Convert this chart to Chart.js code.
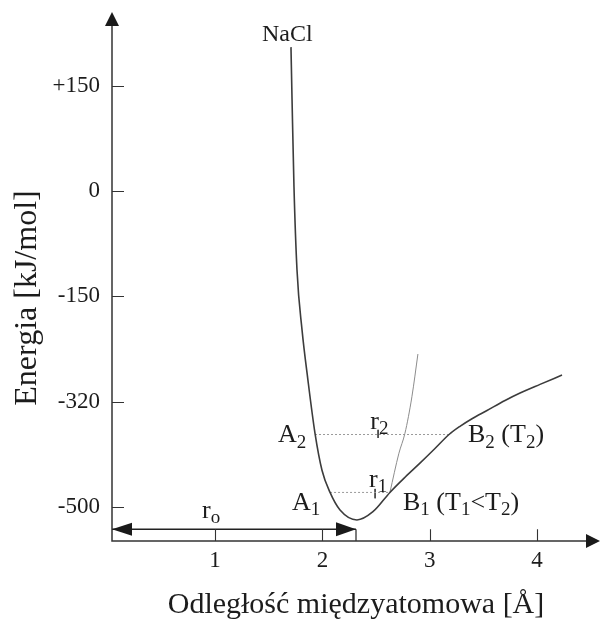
<!DOCTYPE html>
<html>
<head>
<meta charset="utf-8">
<script src="https://cdn.jsdelivr.net/npm/chart.js@4/dist/chart.umd.min.js"></script>
<style>
  html, body { margin: 0; padding: 0; background: #fff; }
</style>
</head>
<body>
<canvas id="chart" width="600" height="622"></canvas>
<script>
// ============= Dane =============
const xTicks = [1, 2, 3, 4];
const yTickE = [-500, -320, -150, 0, 150];
const yTickLabels = ["-500", "-320", "-150", "0", "+150"];
const rMin = 0.039, rMax = 4.587;
const eMin = -558, eMax = 255;

// krzywa energii NaCl
const morseR = [1.707, 1.717, 1.735, 1.763, 1.810, 1.865, 1.931, 1.996, 2.071, 2.164, 2.322, 2.471, 2.629, 2.770, 2.909, 3.049, 3.180, 3.282, 3.394, 3.534, 3.702, 3.842, 4.028, 4.233];
const morseE = [205, 130, 6, -112, -204, -285, -374, -437, -475, -505, -522, -508, -475, -449, -425, -400, -376, -362, -349, -335, -318, -306, -292, -277];

// przybliżenie harmoniczne (cienka linia)
const harmR = [2.629, 2.713, 2.769, 2.834, 2.890];
const harmE = [-475, -408, -374, -312, -243];

// poziomy A2-B2 i A1-B1
const levelE = [-376, -475];
const levelFrom = [1.931, 2.071];
const levelTo = [3.180, 2.629];

// znaczniki r2, r1
const rMarkR = [2.519, 2.491];
const rMarkTop = [-368, -469];
const rMarkBottom = [-382, -485];

// strzałka r_o
const roR = [0.039, 2.313];
const roE = -538;

// opisy
const noteText = ["NaCl", "A_2", "r_2", "B_2 (T_2)", "A_1", "r_1", "B_1 (T_1<T_2)", "r_o"];
const noteR = [1.437, 1.586, 2.446, 3.357, 1.717, 2.434, 2.751, 0.878];
const noteE = [225, -375, -352, -375, -490, -451, -490, -504];

// skala energii nie jest liniowa: kreski są w równych odstępach
function lvl(e) {
  let i = 0;
  while (i < yTickE.length - 2 && e > yTickE[i + 1]) i++;
  return i + (e - yTickE[i]) / (yTickE[i + 1] - yTickE[i]);
}

const pts = (rs, es) => rs.map((r, i) => ({ x: r, y: lvl(es[i]) }));

const FONT = "'Liberation Serif', 'Times New Roman', serif";
const INK = "#1c1c1c";

const datasets = [
  {
    data: pts(morseR, morseE),
    borderColor: "#3c3c3c",
    borderWidth: 1.6,
    cubicInterpolationMode: "monotone",
  },
  {
    data: pts(harmR, harmE),
    borderColor: "#8c8c8c",
    borderWidth: 1,
    cubicInterpolationMode: "monotone",
  },
];

levelE.forEach((e, i) => {
  datasets.push({
    data: pts([levelFrom[i], levelTo[i]], [e, e]),
    borderColor: "#9a9a9a",
    borderWidth: 1,
    borderDash: [2, 2],
  });
});

rMarkR.forEach((r, i) => {
  datasets.push({
    data: pts([r, r], [rMarkTop[i], rMarkBottom[i]]),
    borderColor: "#444",
    borderWidth: 1,
  });
});

datasets.push({
  data: pts(roR, [roE, roE]),
  borderColor: "#222",
  borderWidth: 1.4,
  arrows: true,
});
datasets.push({
  data: pts([roR[1], roR[1]], [eMin, roE]),
  borderColor: "#222",
  borderWidth: 1.2,
});

// ============= Rysowanie tekstu z indeksami dolnymi =============
function drawRich(ctx, str, x, y, size) {
  const parts = [];
  for (let i = 0; i < str.length; i++) {
    if (str[i] === "_") {
      parts.push([str[i + 1], true]);
      i++;
    } else if (parts.length && !parts[parts.length - 1][1]) {
      parts[parts.length - 1][0] += str[i];
    } else {
      parts.push([str[i], false]);
    }
  }
  const base = y + size * 0.33;
  let cx = x;
  ctx.textAlign = "left";
  ctx.textBaseline = "alphabetic";
  parts.forEach(([t, sub]) => {
    const s = sub ? Math.round(size * 0.74) : size;
    ctx.font = `${s}px ${FONT}`;
    ctx.fillText(t, cx, sub ? base + size * 0.2 : base);
    cx += ctx.measureText(t).width;
  });
}

function tri(ctx, tipX, tipY, dx, dy, len, half) {
  // dx,dy: kierunek grotu
  const bx = tipX - dx * len, by = tipY - dy * len;
  ctx.beginPath();
  ctx.moveTo(tipX, tipY);
  ctx.lineTo(bx - dy * half, by + dx * half);
  ctx.lineTo(bx + dy * half, by - dx * half);
  ctx.closePath();
  ctx.fill();
}

const decor = {
  id: "decor",
  afterDraw(chart) {
    const { ctx, chartArea: a, scales } = chart;
    const xs = scales.x, ys = scales.y;
    ctx.save();
    ctx.strokeStyle = "#333";
    ctx.fillStyle = "#1a1a1a";
    ctx.lineWidth = 1.5;

    // osie
    ctx.beginPath();
    ctx.moveTo(a.left, a.top + 4);
    ctx.lineTo(a.left, a.bottom);
    ctx.lineTo(a.right - 4, a.bottom);
    ctx.stroke();
    tri(ctx, a.left, a.top, 0, -1, 14, 7);
    tri(ctx, a.right, a.bottom, 1, 0, 14, 7);

    // kreski podziałki (do wewnątrz)
    ctx.lineWidth = 1.1;
    ctx.beginPath();
    yTickE.forEach((e) => {
      const y = Math.round(ys.getPixelForValue(lvl(e))) + 0.5;
      ctx.moveTo(a.left, y);
      ctx.lineTo(a.left + 12, y);
    });
    xTicks.forEach((v) => {
      const x = Math.round(xs.getPixelForValue(v)) + 0.5;
      ctx.moveTo(x, a.bottom);
      ctx.lineTo(x, ys.getPixelForValue(lvl(roE)));
    });
    ctx.stroke();

    // groty strzałki r_o
    chart.data.datasets.forEach((ds, i) => {
      if (!ds.arrows) return;
      const el = chart.getDatasetMeta(i).data;
      const p0 = el[0], p1 = el[el.length - 1];
      tri(ctx, p0.x, p0.y, -1, 0, 20, 6.5);
      tri(ctx, p1.x, p1.y, 1, 0, 20, 7);
    });

    // opisy
    ctx.fillStyle = INK;
    noteText.forEach((t, i) => {
      const size = t === "NaCl" ? 24 : 26;
      drawRich(ctx, t, xs.getPixelForValue(noteR[i]), ys.getPixelForValue(lvl(noteE[i])), size);
    });

    // tytuły osi
    ctx.font = `30px ${FONT}`;
    ctx.textAlign = "center";
    ctx.textBaseline = "alphabetic";
    ctx.fillText("Odległość międzyatomowa [Å]", (a.left + a.right) / 2, a.bottom + 72);

    ctx.translate(36, a.bottom - 243);
    ctx.rotate(-Math.PI / 2);
    ctx.font = `32px ${FONT}`;
    ctx.fillText("Energia [kJ/mol]", 0, 0);
    ctx.restore();
  },
};

new Chart(document.getElementById("chart"), {
  type: "line",
  data: { datasets },
  options: {
    responsive: false,
    animation: false,
    events: [],
    layout: { padding: { top: 12, right: 0, left: 0, bottom: 0 } },
    elements: { point: { radius: 0 }, line: { fill: false } },
    plugins: { legend: { display: false }, tooltip: { enabled: false } },
    scales: {
      x: {
        type: "linear",
        min: rMin,
        max: rMax,
        grid: { display: false, drawTicks: false },
        border: { display: false },
        ticks: { color: INK, font: { family: FONT, size: 23 }, padding: 6, maxRotation: 0 },
        afterBuildTicks: (s) => { s.ticks = xTicks.map((v) => ({ value: v })); },
        afterFit: (s) => {
          s.height = 81;
          s.paddingLeft = 0;
          s.paddingRight = 0;
        },
      },
      y: {
        type: "linear",
        min: lvl(eMin),
        max: lvl(eMax),
        grid: { display: false, drawTicks: false },
        border: { display: false },
        ticks: {
          color: INK,
          font: { family: FONT, size: 23 },
          padding: 12,
          callback: (v, i) => yTickLabels[i],
        },
        afterBuildTicks: (s) => { s.ticks = yTickE.map((e) => ({ value: lvl(e) })); },
        afterFit: (s) => {
          s.width = 112;
          s.paddingTop = 0;
          s.paddingBottom = 0;
        },
      },
    },
  },
  plugins: [decor],
});
</script>
</body>
</html>
